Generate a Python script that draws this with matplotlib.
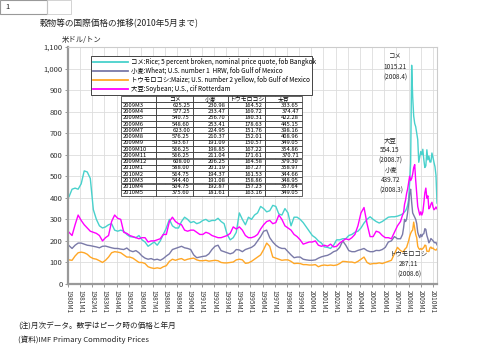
import matplotlib
matplotlib.use("Agg")
import matplotlib.pyplot as plt
from matplotlib.patches import Rectangle
from matplotlib.lines import Line2D

plt.rcParams['font.family'] = ['Noto Sans CJK JP', 'DejaVu Sans']

# ---- data (US$/ton) ----
# quarterly samples (M2, M5, M8, M11) 1980-2006, 2007M2, 2007M5, then monthly 2007M7-2010M5
periods = [f"{y}M{m}" for y in range(1980, 2007) for m in (2, 5, 8, 11)] + ["2007M2", "2007M5"] \
    + [f"2007M{m}" for m in range(7, 13)] + [f"2008M{m}" for m in range(1, 13)] \
    + [f"2009M{m}" for m in range(1, 13)] + [f"2010M{m}" for m in range(1, 6)]

rice = [405, 440, 445, 440, 465, 525, 520, 490, 345, 300, 270, 260, 265, 275, 280, 250,
        245, 250, 245, 230, 220, 218, 215, 225, 205, 195, 175, 185, 195, 180, 200, 230,
        260, 300, 270, 260, 260, 290, 310, 300, 285, 290, 280, 285, 295, 300, 290, 295,
        295, 305, 290, 280, 230, 205, 215, 240, 330, 300, 275, 310, 300, 320, 330, 360,
        350, 335, 340, 365, 360, 325, 320, 350, 330, 270, 310, 310, 300, 285, 265, 245,
        225, 215, 200, 190, 172, 170, 165, 180, 205, 205, 210, 210, 225, 230, 240, 245,
        260, 283, 300, 312, 300, 290, 283, 290, 300, 310, 312, 312, 315, 320,
        325, 330, 335, 340, 350, 365,
        390, 470, 560, 1015.21, 870, 780, 745, 730, 700, 670, 565, 590,
        615, 600, 625.25, 577.25, 540.75, 548.60, 623.00, 576.25, 593.67, 566.25, 566.25, 608.00,
        588.00, 564.75, 544.40, 504.75, 375.60]

wheat = [178, 165, 180, 190, 190, 185, 180, 178, 175, 172, 168, 175, 176, 172, 168, 165,
         165, 162, 160, 167, 155, 150, 155, 145, 130, 120, 115, 118, 112, 115, 110, 118,
         130, 140, 160, 165, 170, 175, 168, 165, 160, 135, 122, 125, 128, 130, 140, 160,
         175, 180, 155, 150, 145, 140, 145, 160, 158, 150, 160, 165, 170, 180, 200, 220,
         245, 250, 215, 195, 180, 170, 165, 165, 150, 135, 122, 125, 125, 115, 112, 110,
         110, 112, 120, 126, 130, 133, 140, 150, 155, 170, 200, 180, 155, 150, 150, 156,
         160, 165, 155, 150, 150, 156, 155, 160, 170, 195, 200, 220, 210, 210,
         230, 260, 300, 290, 300, 330,
         370, 420, 439.72, 380, 330, 320, 310, 300, 280, 240, 225, 215,
         230, 220, 230.98, 233.47, 256.70, 253.41, 224.95, 210.37, 191.09, 198.85, 211.04, 206.25,
         201.19, 194.37, 191.08, 192.87, 181.61]

maize = [112, 110, 130, 145, 148, 145, 138, 125, 118, 115, 108, 100, 110, 125, 145, 150,
         148, 145, 135, 125, 125, 120, 110, 100, 100, 95, 80, 75, 72, 75, 72, 80,
         85, 105, 115, 110, 115, 118, 110, 115, 118, 120, 112, 108, 108, 110, 106, 108,
         110, 108, 100, 98, 98, 100, 102, 112, 115, 112, 96, 98, 105, 115, 125, 135,
         160, 190, 175, 125, 120, 115, 110, 112, 112, 105, 95, 96, 95, 90, 90, 88,
         88, 90, 80, 86, 88, 86, 88, 86, 88, 95, 105, 104, 102, 102, 98, 105,
         115, 125, 100, 92, 95, 95, 98, 95, 100, 105, 110, 140, 170, 155,
         150, 150, 160, 165, 170, 185,
         200, 220, 235, 245, 250, 287.11, 260, 230, 215, 175, 165, 160,
         165, 160, 164.52, 169.72, 180.31, 178.63, 151.76, 152.01, 150.57, 167.22, 171.61, 164.58,
         167.27, 161.53, 158.86, 157.23, 163.16]

soy = [240, 225, 275, 320, 295, 275, 260, 245, 240, 235, 225, 200, 215, 225, 290, 320,
       305, 300, 240, 235, 225, 220, 215, 210, 215, 215, 195, 200, 200, 205, 210, 230,
       230, 290, 310, 290, 280, 275, 250, 245, 250, 250, 240, 230, 230, 240, 235, 225,
       220, 215, 215, 220, 225, 235, 265, 255, 265, 250, 225, 215, 215, 220, 230, 255,
       275, 290, 295, 280, 285, 320, 300, 270, 260, 250, 230, 220, 205, 185, 190, 195,
       195, 200, 180, 175, 180, 175, 185, 172, 175, 190, 200, 210, 205, 215, 230, 270,
       330, 355, 280, 220, 220, 245, 240, 225, 215, 215, 210, 240, 270, 290,
       320, 330, 370, 390, 420, 440,
       470, 500, 480, 490, 510, 540, 554.15, 480, 420, 360, 340, 320,
       335, 320, 333.65, 374.47, 422.28, 445.15, 398.16, 408.96, 349.05, 354.86, 370.71, 379.30,
       358.97, 344.66, 348.95, 357.64, 349.05]

series_names = ["コメ:Rice; 5 percent broken, nominal price quote, fob Bangkok",
                "小麦:Wheat; U.S. number 1  HRW, fob Gulf of Mexico",
                "トウモロコシ:Maize; U.S. number 2 yellow, fob Gulf of Mexico",
                "大豆:Soybean; U.S., cif Rotterdam"]
colors = ["#48d1cc", "#7a7aa8", "#ffa726", "#ff00ff"]

table_rows = ["2009M3", "2009M4", "2009M5", "2009M6", "2009M7", "2009M8", "2009M9", "2009M10",
              "2009M11", "2009M12", "2010M1", "2010M2", "2010M3", "2010M4", "2010M5"]
table_cols = ["コメ", "小麦", "トウモロコシ", "大豆"]

peak_labels = ["コメ\n1015.21\n(2008.4)", "小麦\n439.72\n(2008.3)",
               "トウモロコシ\n287.11\n(2008.6)", "大豆\n554.15\n(2008.7)"]

year_ticks = list(range(1980, 2011))


def pos(p):
    y, m = p.split("M")
    return (int(y) - 1980) * 12 + int(m) - 1


x = [pos(p) for p in periods]

fig = plt.figure(figsize=(4.8, 3.6), dpi=100)
fig.patch.set_facecolor("white")
ax = fig.add_axes([68 / 480, 1 - 284 / 360, 369 / 480, 237 / 360])

for vals, c in zip([rice, wheat, maize, soy], colors):
    ax.plot(x, vals, color=c, lw=1.0, solid_joinstyle="round")

ax.set_xlim(0, 364)
ax.set_ylim(0, 1100)
ax.set_yticks(range(0, 1101, 100))
ax.set_yticklabels([f"{v:,}" for v in range(0, 1101, 100)], fontsize=5.5, color="#333333")
ax.set_xticks([(y - 1980) * 12 for y in year_ticks])
ax.set_xticklabels([f"{y}M1" for y in year_ticks], rotation=270, fontsize=4.6, color="#333333")
ax.tick_params(axis="both", length=2, width=0.6, color="#888888", pad=2)
ax.grid(True, color="#dddddd", lw=0.6)
ax.set_axisbelow(True)
for s in ["top", "right"]:
    ax.spines[s].set_color("#cccccc")
    ax.spines[s].set_linewidth(0.8)
for s in ["left", "bottom"]:
    ax.spines[s].set_color("#999999")
    ax.spines[s].set_linewidth(1.6)

# legend
handles = [Line2D([], [], color=c, lw=1.3) for c in colors]
leg = ax.legend(handles, series_names, loc="upper left",
                bbox_to_anchor=(88 / 480, 1 - 92 / 360, 227 / 480, 39 / 360),
                bbox_transform=fig.transFigure, mode="expand", fontsize=4.6,
                handlelength=5.5, handletextpad=0.4, borderpad=0.3, labelspacing=0.15,
                fancybox=False, framealpha=1, edgecolor="#444444")
leg.get_frame().set_linewidth(0.7)
leg.set_zorder(6)

# table
cell_text = [[r] + [f"{v:.2f}" for v in vals] for r, vals in
             zip(table_rows, zip(rice[-15:], wheat[-15:], maize[-15:], soy[-15:]))]
tab = ax.table(cellText=[[""] + table_cols] + cell_text,
               bbox=[(121 - 68) / 369, (284 - 196) / 237, (302 - 121) / 369, 100 / 237],
               cellLoc="center", colWidths=[35, 37, 35, 37, 37])
tab.auto_set_font_size(False)
tab.set_fontsize(4.2)
for (r, c), cell in tab.get_celld().items():
    cell.set_linewidth(0.5)
    cell.set_edgecolor("#222222")
    cell.set_facecolor("white")
    if r > 0 and c == 0:
        cell.get_text().set_ha("left")
        cell.PAD = 0.05
    elif r > 0:
        cell.get_text().set_ha("right")
        cell.PAD = 0.08
tab.set_zorder(5)

# peak annotations
ann_px = [(395, 67), (391, 180), (409, 264), (390, 150)]
for lab, (px, py) in zip(peak_labels, ann_px):
    fig.text(px / 480, 1 - py / 360, lab, ha="center", va="center", fontsize=4.6,
             color="#222222", linespacing=1.35)

# titles and notes
fig.text(40 / 480, 1 - 24 / 360, "穀物等の国際価格の推移(2010年5月まで)", fontsize=6.2,
         va="center", color="#222222")
fig.text(62 / 480, 1 - 40 / 360, "米ドル/トン", fontsize=5.3, va="center", color="#222222")
fig.text(18 / 480, 1 - 327 / 360, "(注)月次データ。数字はピーク時の価格と年月", fontsize=5.5,
         va="center", color="#222222")
fig.text(18 / 480, 1 - 340 / 360, "(資料)IMF Primary Commodity Prices", fontsize=5.5,
         va="center", color="#222222")

# sheet tab at top-left
fig.patches.append(Rectangle((0, 1 - 14 / 360), 47 / 480, 14 / 360, transform=fig.transFigure,
                             fill=False, edgecolor="#999999", lw=0.8))
fig.patches.append(Rectangle((47 / 480, 1 - 14 / 360), 24 / 480, 14 / 360, transform=fig.transFigure,
                             fill=False, edgecolor="#cccccc", lw=0.6))
fig.text(5 / 480, 1 - 7 / 360, "1", fontsize=5.5, va="center", color="#222222")

fig.savefig("out.png", dpi=100)
